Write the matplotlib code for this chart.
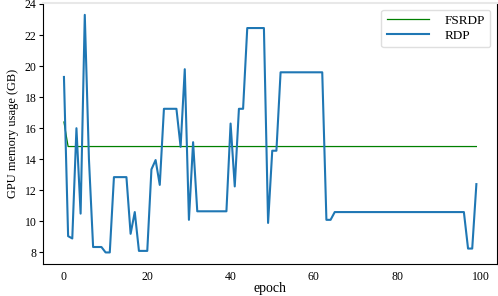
import matplotlib
matplotlib.use("Agg")
import matplotlib.pyplot as plt

plt.rcParams['font.family'] = ['Liberation Serif', 'DejaVu Serif']

epochs = list(range(100))

# FSRDP: drops after the first epoch then stays flat
fsrdp = [16.4] + [14.82] * 99

rdp = [19.3, 9.05, 8.9, 16.0, 10.5, 23.3, 14.0, 8.35, 8.35, 8.35,
       8.0, 8.0, 12.85, 12.85, 12.85, 12.85, 9.2, 10.6, 8.1, 8.1,
       8.1, 13.35, 13.95, 12.35, 17.25, 17.25, 17.25, 17.25, 14.8, 19.8,
       10.1, 15.1, 10.65, 10.65, 10.65, 10.65, 10.65, 10.65, 10.65, 10.65,
       16.3, 12.25, 17.25, 17.25, 22.45, 22.45, 22.45, 22.45, 22.45, 9.9,
       14.55, 14.55, 19.6, 19.6, 19.6, 19.6, 19.6, 19.6, 19.6, 19.6,
       19.6, 19.6, 19.6, 10.1, 10.1] + [10.6] * 32 + [8.25, 8.25, 12.4]

fig = plt.figure(figsize=(4.98, 2.96), dpi=100)
ax = fig.add_axes([0.087, 0.107, 0.911, 0.883])

ax.plot(epochs, fsrdp, color='green', lw=0.9, label='FSRDP')
ax.plot(epochs, rdp, color='#1f77b4', lw=1.5, label='RDP')

ax.set_xticks([0, 20, 40, 60, 80, 100])
ax.set_yticks([8, 10, 12, 14, 16, 18, 20, 22, 24])
ax.tick_params(axis='both', labelsize=8.5)
ax.tick_params(axis='y', length=3, width=0.8, pad=2)
ax.tick_params(axis='x', length=0, pad=5)

ax.set_xlabel('epoch', fontsize=10, labelpad=-1)
ax.set_ylabel('GPU memory usage (GB)', fontsize=9, labelpad=4)

ax.spines['top'].set_color('#e8e8e8')
ax.spines['top'].set_linewidth(1.5)
ax.spines['right'].set_color('black')
ax.spines['left'].set_color('black')
ax.spines['bottom'].set_color('black')

leg = ax.legend(loc='upper right', fontsize=9.5, handlelength=3.2,
                handletextpad=1.2, borderaxespad=0.5, labelspacing=0.2,
                frameon=True)
leg.get_frame().set_edgecolor('#d8d8d8')

fig.savefig('out.png', dpi=100)
